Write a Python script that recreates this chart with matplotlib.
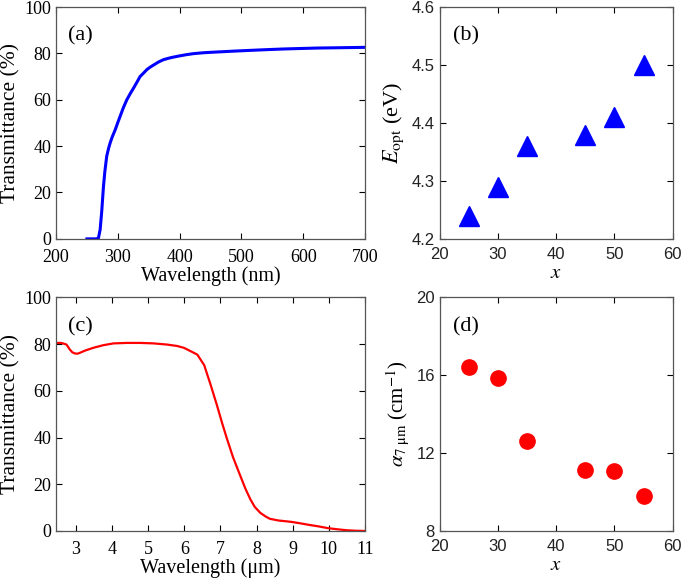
import matplotlib
matplotlib.use("Agg")
import matplotlib.pyplot as plt

plt.rcParams['font.family'] = ['Liberation Serif', 'DejaVu Serif']
plt.rcParams['mathtext.fontset'] = 'stix'
plt.rcParams['font.size'] = 13

# (a) UV-vis transmittance
wl_nm = [250, 255, 260, 265, 268.6, 271.4, 274, 276.8, 279, 282, 285, 287.6, 291,
         295.7, 300, 303.8, 309, 314.6, 320, 325.4, 331, 336, 342, 347, 352, 358,
         366, 374, 385, 395.7, 410, 422.7, 440, 460.5, 490, 514.6, 540, 568.6, 595,
         622.7, 650, 675, 700]
tr_uv = [0, 0, 0, 0, 0.3, 4, 12, 22.7, 29, 35.6, 39, 41.4, 44,
         47, 50.2, 52.9, 56.6, 60, 62.6, 65, 67.6, 70, 71.6, 73, 74, 75,
         76.3, 77.3, 78.1, 78.7, 79.4, 79.9, 80.3, 80.6, 81, 81.3, 81.6, 81.9, 82.1,
         82.3, 82.4, 82.5, 82.6]

# (b) optical band gap
x_b = [25, 30, 35, 45, 50, 55]
e_opt = [4.24, 4.29, 4.36, 4.38, 4.41, 4.50]

# (c) IR transmittance
wl_um = [2.45, 2.6, 2.74, 2.83, 2.9, 2.97, 3.05, 3.1, 3.25, 3.48, 3.75, 4.04, 4.4,
         4.78, 5.15, 5.52, 5.8, 5.99, 6.17, 6.36, 6.55, 6.73, 6.9, 7.05, 7.18, 7.35,
         7.55, 7.7, 7.83, 7.95, 8.1, 8.25, 8.37, 8.6, 8.96, 9.2, 9.42, 9.7, 9.98,
         10.25, 10.5, 10.75, 11.0]
tr_ir = [80.5, 80.5, 79.8, 77.7, 76.5, 76, 75.9, 76.2, 77.2, 78.4, 79.5, 80.3, 80.5,
         80.5, 80.3, 79.8, 79.2, 78.4, 77, 75.5, 71, 62.5, 54, 46, 39.5, 31.5,
         23.6, 17.8, 13.5, 10.3, 7.8, 6.2, 5.2, 4.5, 3.9, 3.3, 2.7, 2, 1.2,
         0.7, 0.3, 0.1, 0]

# (d) absorption coefficient at 7 um
x_d = [25, 30, 35, 45, 50, 55]
alpha7 = [16.4, 15.85, 12.6, 11.15, 11.1, 9.8]

fig = plt.figure(figsize=(6.85, 5.84), dpi=100)
ax_a = fig.add_axes([0.0818, 0.591, 0.451, 0.397])
ax_b = fig.add_axes([0.642, 0.591, 0.340, 0.397])
ax_c = fig.add_axes([0.0818, 0.0908, 0.451, 0.400])
ax_d = fig.add_axes([0.642, 0.0908, 0.340, 0.400])

ax_a.plot(wl_nm, tr_uv, color='#0000ff', lw=2.2)
ax_a.set_xlim(200, 700)
ax_a.set_ylim(0, 100)
ax_a.set_xticks([200, 300, 400, 500, 600, 700])
ax_a.set_yticks([0, 20, 40, 60, 80, 100])
ax_a.set_xlabel('Wavelength (nm)', fontsize=14.5, labelpad=0.5)
ax_a.set_ylabel('Transmittance (%)', fontsize=15.5, labelpad=3)

ax_b.plot(x_b, e_opt, ls='none', marker='^', ms=15, color='#0000ff')
ax_b.set_xlim(20, 60)
ax_b.set_ylim(4.2, 4.6)
ax_b.set_xticks([20, 30, 40, 50, 60])
ax_b.set_yticks([4.2, 4.3, 4.4, 4.5, 4.6])
ax_b.set_xlabel('$x$', fontsize=15, labelpad=1)
ax_b.set_ylabel(r'$E_{\mathrm{opt}}$ (eV)', fontsize=16, labelpad=4)

ax_c.plot(wl_um, tr_ir, color='#ff0000', lw=1.6)
ax_c.set_xlim(2.45, 11)
ax_c.set_ylim(0, 100)
ax_c.set_xticks(range(3, 12))
ax_c.set_yticks([0, 20, 40, 60, 80, 100])
ax_c.set_xlabel('Wavelength (\u03bcm)', fontsize=14.5, labelpad=0.5)
ax_c.set_ylabel('Transmittance (%)', fontsize=15.5, labelpad=3)

ax_d.plot(x_d, alpha7, ls='none', marker='o', ms=11, color='#ff0000')
ax_d.set_xlim(20, 60)
ax_d.set_ylim(8, 20)
ax_d.set_xticks([20, 30, 40, 50, 60])
ax_d.set_yticks([8, 12, 16, 20])
ax_d.set_xlabel('$x$', fontsize=15, labelpad=1)
ax_d.set_ylabel(r'$\alpha_{7\ \mathrm{\mu m}}$ (cm$^{-1}$)', fontsize=15, labelpad=4)

for ax, lab, lx in [(ax_a, '(a)', 0.04), (ax_b, '(b)', 0.056),
                    (ax_c, '(c)', 0.04), (ax_d, '(d)', 0.056)]:
    ax.text(lx, 0.875, lab, transform=ax.transAxes, fontsize=16, va='center')
    ax.tick_params(direction='in', top=True, right=True, length=4, width=0.8,
                   labelsize=13, colors='black')
    ax.tick_params(axis='x', pad=7 if ax in (ax_a, ax_c) else 6)
    for s in ax.spines.values():
        s.set_color('#555555')
        s.set_linewidth(0.9)

# the scatter panels use a sans face for tick numbers
for ax in (ax_b, ax_d):
    for t in ax.get_xticklabels() + ax.get_yticklabels():
        t.set_fontfamily('Liberation Sans')
        t.set_fontsize(12)
        t.set_color('#222222')

fig.savefig('out.png', dpi=100)
